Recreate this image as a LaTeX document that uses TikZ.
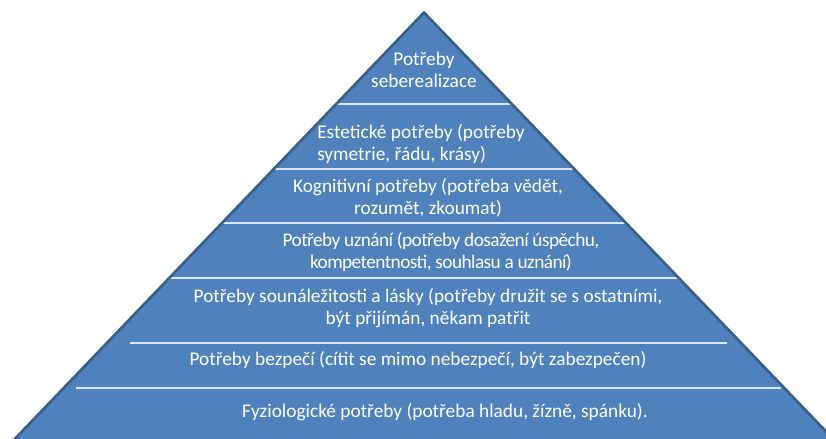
\documentclass[tikz,border=0pt]{standalone}
\usepackage{fontspec}
\setmainfont{Carlito}
\usepackage{tikz}
\definecolor{layerfill}{HTML}{4F81BD}
\definecolor{layeredge}{HTML}{3A5F8B}
\definecolor{layerline}{HTML}{DCE6F2}
\tikzset{layer/.style={layerline, line width=1pt},
  needtext/.style={text=white, align=center, inner sep=0pt, font=\fontsize{14.5}{16.5}\selectfont}}

\begin{document}
\begin{tikzpicture}[x=0.75pt, y=-0.75pt]
      \useasboundingbox (0, 0) rectangle (826, 439);
      \clip (0, 0) rectangle (826, 439);

      \coordinate (apex) at (424, 12.5);
      \coordinate (left) at (9, 445);
      \coordinate (right) at (839, 445);
      \fill [layerfill] (apex) -- (right) -- (left) -- cycle;

      \draw [layer] (336, 104) -- (512, 104);
      \draw [layer] (274, 169) -- (574, 169);
      \draw [layer] (222, 223) -- (626, 223);
      \draw [layer] (169, 278) -- (679, 278);
      \draw [layer] (130, 343) -- (727, 343);
      \draw [layer] (76, 388) -- (781, 388);

      \draw [layeredge, line width=2pt, line join=round] (left) -- (apex) -- (right);

      \node [needtext] (selfreal) at (424, 70) {Potřeby\\seberealizace};
      \node [needtext, align=left, anchor=west] (aesthetic) at (317, 144) {Estetické potřeby (potřeby\\symetrie, řádu, krásy)};
      \node [needtext] (cognitive) at (428, 198) {Kognitivní potřeby (potřeba vědět,\\rozumět, zkoumat)};
      \node [needtext, font=\fontsize{14.5}{16.5}\selectfont\addfontfeatures{LetterSpace=-3}] (esteem) at (441, 252) {Potřeby uznání (potřeby dosažení úspěchu,\\kompetentnosti, souhlasu a uznání)};
      \node [needtext] (belonging) at (428, 308) {Potřeby sounáležitosti a lásky (potřeby družit se s ostatními,\\být přijímán, někam patřit};
      \node [needtext] (safety) at (418, 360) {Potřeby bezpečí (cítit se mimo nebezpečí, být zabezpečen)};
      \node [needtext] (physio) at (445, 412) {Fyziologické potřeby (potřeba hladu, žízně, spánku).};
    \end{tikzpicture}
\end{document}
